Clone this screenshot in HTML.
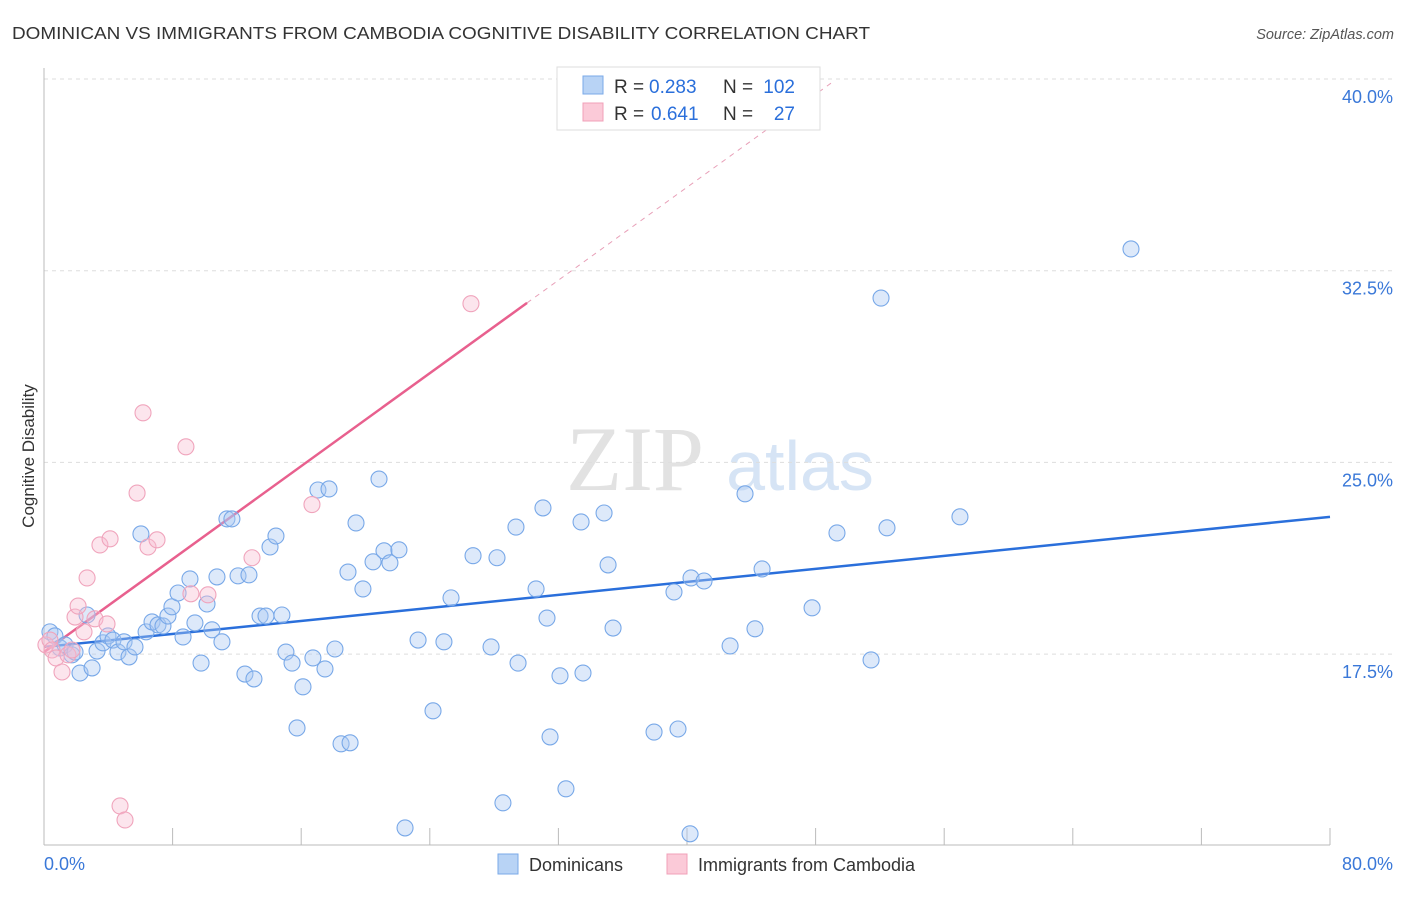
<!DOCTYPE html>
<html><head><meta charset="utf-8"><style>
body{margin:0;background:#fff;font-family:"Liberation Sans",sans-serif;}
svg text{font-family:"Liberation Sans",sans-serif;}
</style></head><body>
<svg id="chart" width="1406" height="892" xmlns="http://www.w3.org/2000/svg">
<text x="12" y="39" font-size="17.5" fill="#333" textLength="858" lengthAdjust="spacingAndGlyphs">DOMINICAN VS IMMIGRANTS FROM CAMBODIA COGNITIVE DISABILITY CORRELATION CHART</text>
<text x="1394" y="39" font-size="14.5" fill="#555" text-anchor="end" font-style="italic">Source: ZipAtlas.com</text>
<g>
<text x="635" y="490" font-size="92" fill="#e2e2e2" text-anchor="middle" font-family="Liberation Serif" style="font-family:'Liberation Serif',serif">ZIP</text>
<text x="800" y="490" font-size="70" fill="#d6e4f5" text-anchor="middle">atlas</text>
</g>
<g id="grid"></g>
<g id="axes"></g>
<g id="lines"></g>
<g id="points"></g>
<text transform="translate(34,456) rotate(-90)" font-size="17" fill="#333" text-anchor="middle">Cognitive Disability</text>
<g>
<rect x="557" y="67" width="263" height="63" fill="#fff" stroke="#ddd"/>
<rect x="583" y="76" width="20" height="18" fill="#b8d3f5" stroke="#7aaae8"/>
<rect x="583" y="103" width="20" height="18" fill="#fbcad8" stroke="#f0a0b8"/>
<text x="614" y="93" font-size="19" fill="#333">R =</text>
<text x="649" y="93" font-size="19" fill="#2a6fdb">0.283</text>
<text x="723" y="93" font-size="19" fill="#333">N =</text>
<text x="795" y="93" font-size="19" fill="#2a6fdb" text-anchor="end">102</text>
<text x="614" y="120" font-size="19" fill="#333">R =</text>
<text x="651" y="120" font-size="19" fill="#2a6fdb">0.641</text>
<text x="723" y="120" font-size="19" fill="#333">N =</text>
<text x="795" y="120" font-size="19" fill="#2a6fdb" text-anchor="end">27</text>
</g>
<g>
<rect x="498" y="854" width="20" height="20" fill="#b8d3f5" stroke="#7aaae8"/>
<text x="529" y="871" font-size="18" fill="#333">Dominicans</text>
<rect x="667" y="854" width="20" height="20" fill="#fbcad8" stroke="#f0a0b8"/>
<text x="698" y="871" font-size="18" fill="#333">Immigrants from Cambodia</text>
</g>
</svg>
<script>
const yTicks=[17.5,25,32.5,40];
const yTickLabels=["17.5%","25.0%","32.5%","40.0%"];
const xTickVals=[0,8,16,24,32,40,48,56,64,72,80];
const blueX=[0.37,0.68,1.00,1.31,1.74,1.93,2.24,2.68,2.99,3.30,3.67,3.98,4.29,4.60,4.98,5.29,5.66,6.03,6.35,6.72,7.09,7.40,7.71,7.96,8.34,8.65,9.08,9.39,9.77,10.14,10.45,10.76,11.07,11.38,11.69,12.07,12.50,12.75,13.06,13.44,13.81,14.06,14.43,14.80,15.05,15.43,15.74,16.11,16.73,17.48,17.04,17.73,18.10,18.48,19.04,18.91,19.41,19.84,20.47,20.84,21.15,21.52,22.08,22.46,23.27,24.20,24.88,25.32,26.69,27.81,28.18,28.55,29.36,29.49,30.61,31.04,31.29,31.48,32.10,32.47,33.41,33.53,34.84,35.09,35.40,37.95,39.19,39.44,40.25,40.19,41.06,42.68,43.61,44.23,44.67,47.78,49.33,51.45,52.07,52.44,56.98,67.62];
const blueY=[18.37,18.21,17.74,17.86,17.47,17.58,16.76,19.03,16.96,17.62,17.94,18.21,18.05,17.58,17.98,17.39,17.78,22.20,18.37,18.76,18.64,18.60,18.99,19.35,19.89,18.17,20.44,18.72,17.15,19.46,18.45,20.52,17.98,22.79,22.79,20.56,16.72,20.60,16.53,18.99,18.99,21.69,22.12,19.03,17.58,17.15,14.61,16.22,17.35,16.92,23.92,23.96,17.70,13.99,14.03,20.71,22.63,20.05,21.11,24.35,21.54,21.07,21.58,10.70,18.05,15.28,17.98,19.70,21.35,17.78,21.27,11.68,22.47,17.15,20.05,23.22,18.91,14.26,16.65,12.23,22.67,16.76,23.02,20.99,18.52,14.45,19.93,14.57,20.48,10.47,20.36,17.82,23.77,18.49,20.83,19.31,22.24,17.27,31.43,22.44,22.87,33.35];
const pinkX=[0.12,0.37,0.50,0.75,1.12,1.49,1.74,1.93,2.12,2.49,2.68,3.17,3.48,3.92,4.11,4.73,5.04,5.79,6.16,6.47,7.03,8.83,9.14,10.20,12.94,16.67,26.56];
const pinkY=[17.86,18.05,17.66,17.35,16.80,17.47,17.66,18.95,19.38,18.37,20.48,18.88,21.77,18.68,22.01,11.56,11.01,23.80,26.94,21.69,21.97,25.61,19.86,19.82,21.27,23.35,31.21];
const blueTrend=[17.78,22.87];
const pinkTrend=[17.58,0.4546];
const pinkSolidEnd=30.05, pinkDashEnd=49.2;

const NS="http://www.w3.org/2000/svg";
const X=v=>44+v*16.075, Y=v=>79+(40-v)*25.56;
function mk(tag,attrs,parent){const e=document.createElementNS(NS,tag);for(const k in attrs)e.setAttribute(k,attrs[k]);document.getElementById(parent).appendChild(e);return e;}
yTicks.forEach((t,i)=>{
 const g=mk('line',{x1:44,x2:1394,y1:Y(t),y2:Y(t),stroke:'#ddd','stroke-dasharray':'4,4'},'grid');
 
 
 const l=mk('text',{x:1393,y:Y(t)+24,'font-size':18,fill:'#3a78d8','text-anchor':'end'},'axes');
 l.textContent=yTickLabels[i];
 
 
});
let a=mk('line',{x1:44,x2:44,y1:68,y2:845,stroke:'#bbb'},'axes');


a=mk('line',{x1:44,x2:1330,y1:845,y2:845,stroke:'#bbb'},'axes');


xTickVals.forEach(v=>{const t=mk('line',{x1:X(v),x2:X(v),y1:828,y2:845,stroke:'#bbb'},'axes');
 
 });
let t0=mk('text',{x:44,y:870,'font-size':18,fill:'#3a78d8'},'axes');t0.textContent='0.0%';


let t1=mk('text',{x:1393,y:870,'font-size':18,fill:'#3a78d8','text-anchor':'end'},'axes');t1.textContent='80.0%';


blueX.forEach((x,i)=>{const c=mk('circle',{cx:X(x),cy:Y(blueY[i]),r:8,fill:'rgba(170,200,242,0.4)',stroke:'#78a8e8','stroke-width':1.1},'points');
 
 });
pinkX.forEach((x,i)=>{const c=mk('circle',{cx:X(x),cy:Y(pinkY[i]),r:8,fill:'rgba(247,190,210,0.4)',stroke:'#f0a4bc','stroke-width':1.1},'points');
 
 });
let bl=mk('line',{x1:X(0),y1:Y(blueTrend[0]),x2:X(80),y2:Y(blueTrend[1]),stroke:'#2a6fdb','stroke-width':2.5},'lines');


const pf=x=>pinkTrend[0]+pinkTrend[1]*x;
let pl=mk('line',{x1:X(0),y1:Y(pf(0)),x2:X(pinkSolidEnd),y2:Y(pf(pinkSolidEnd)),stroke:'#e8608e','stroke-width':2.5},'lines');


let pd=mk('line',{x1:X(pinkSolidEnd),y1:Y(pf(pinkSolidEnd)),x2:X(pinkDashEnd),y2:Y(pf(pinkDashEnd)),stroke:'#e8a0b8','stroke-width':1,'stroke-dasharray':'5,5'},'lines');


</script>
</body></html>
